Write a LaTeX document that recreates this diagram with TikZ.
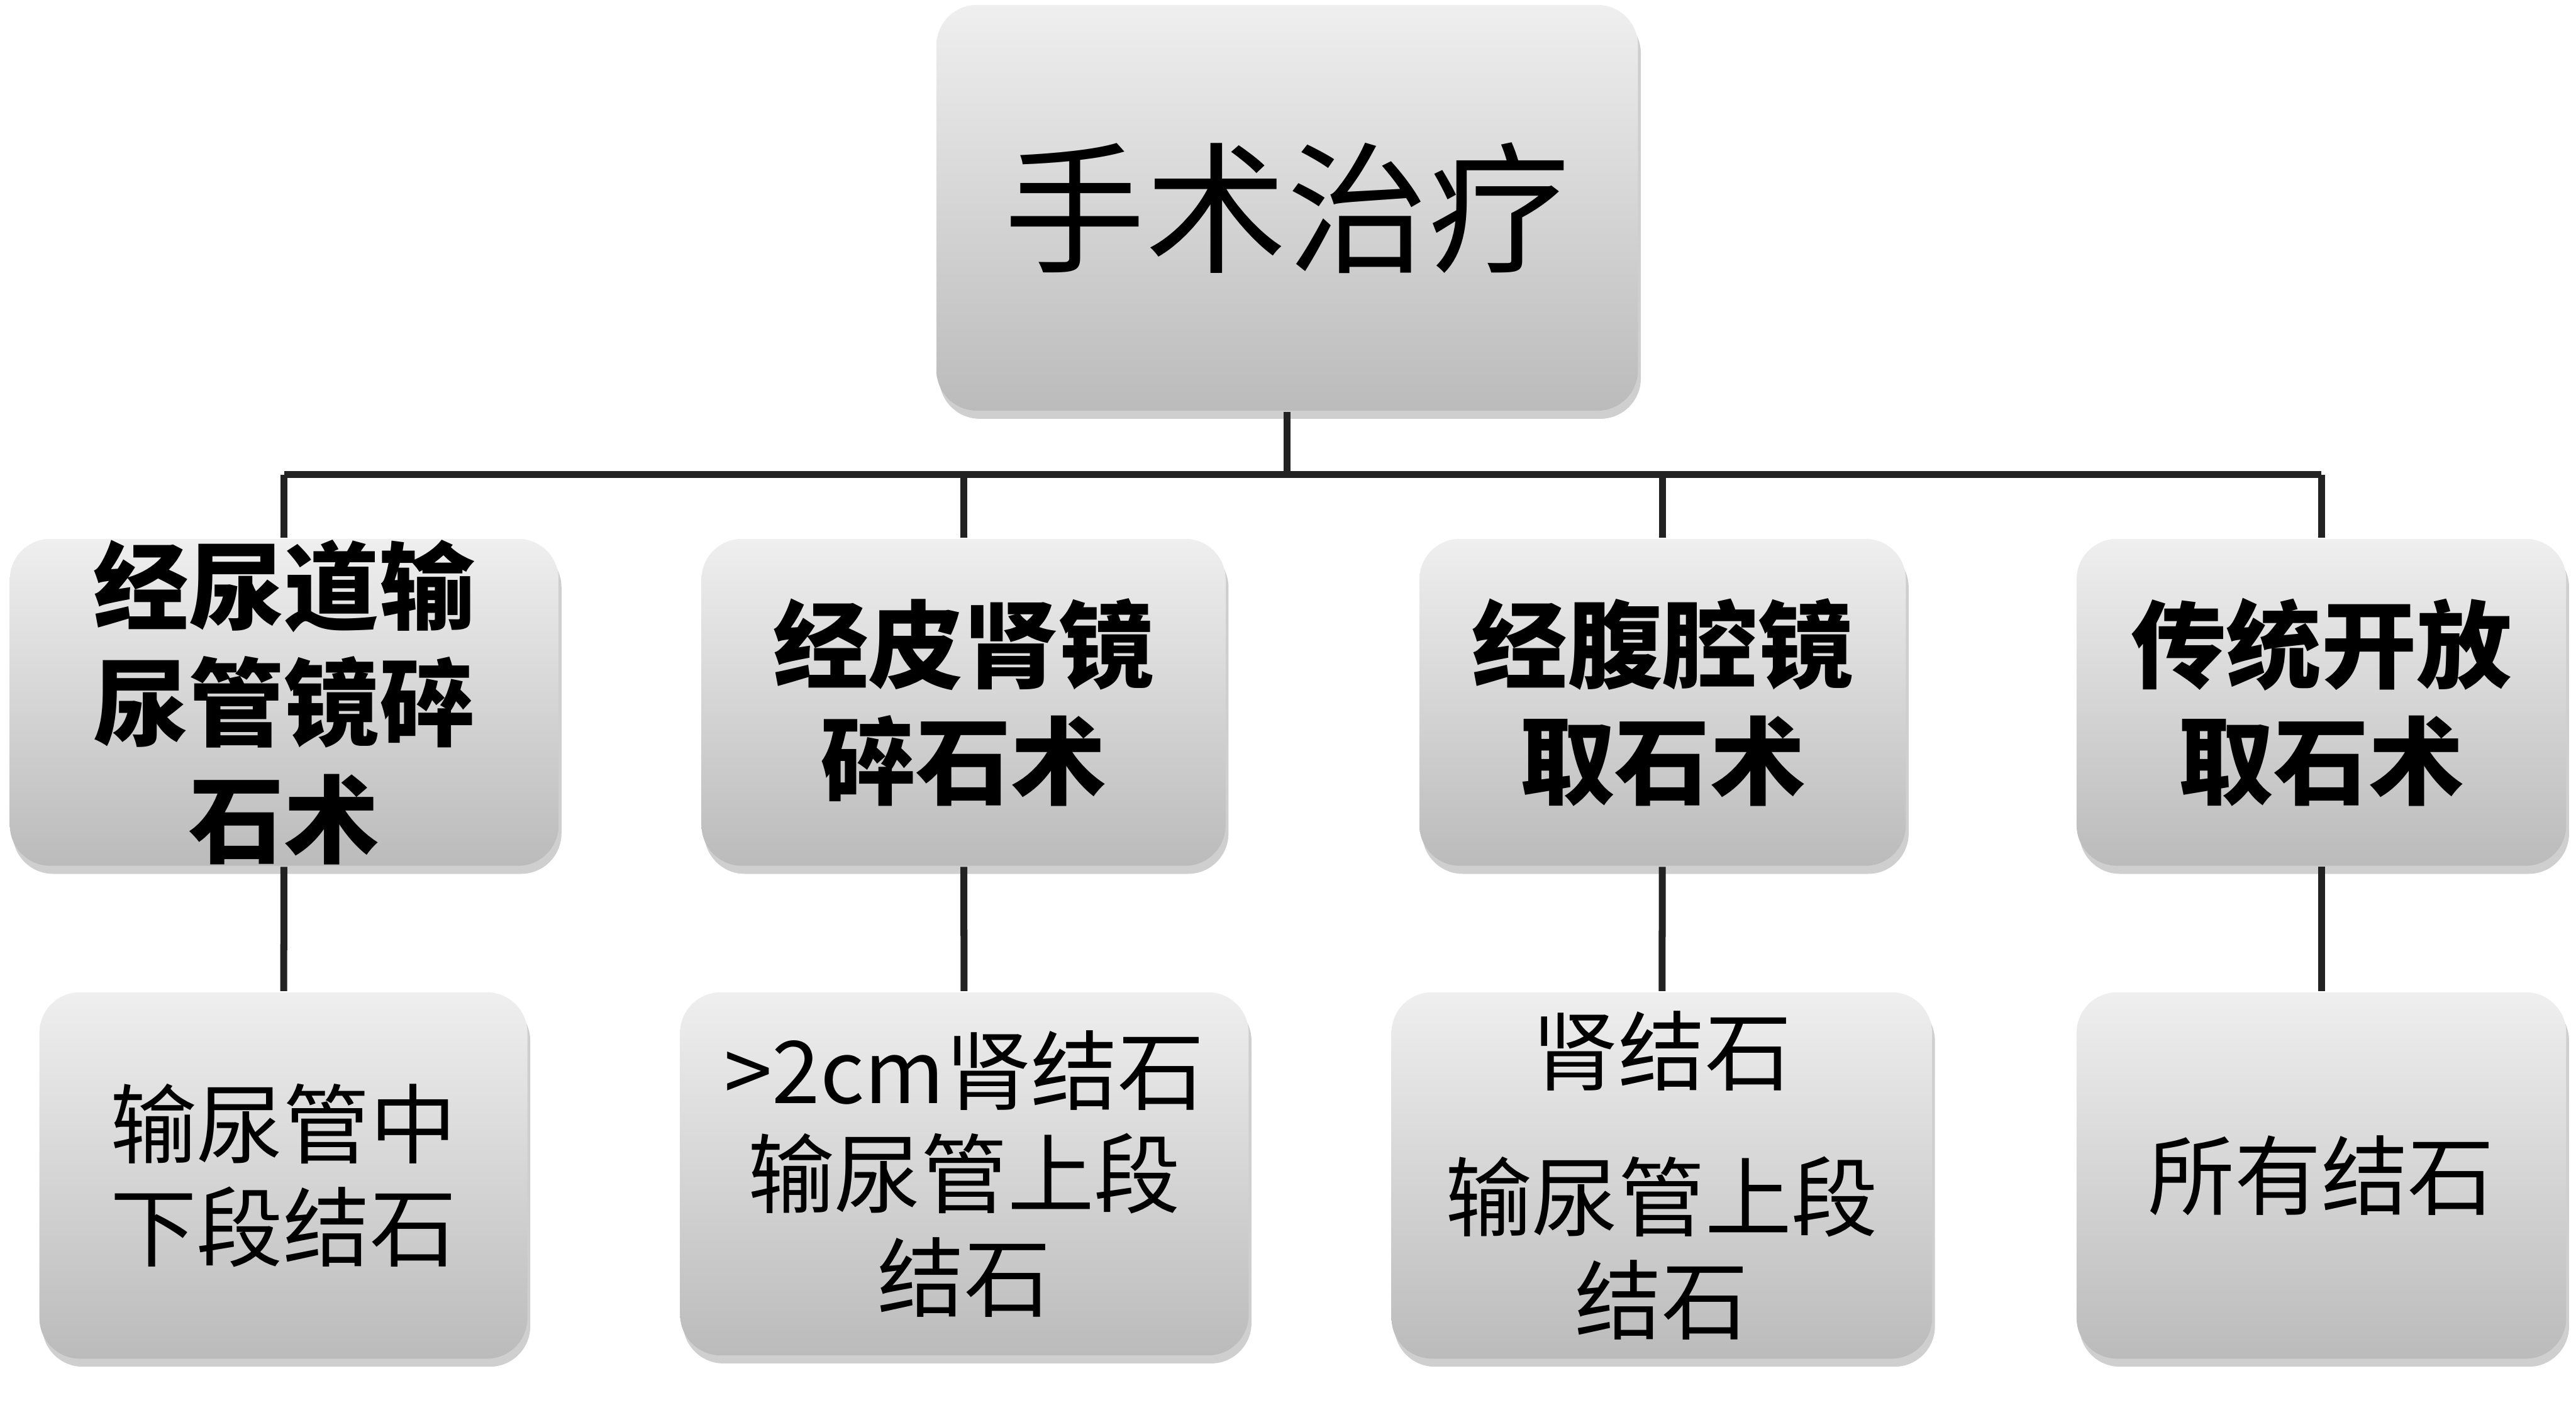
\documentclass[tikz,border=0pt]{standalone}
\usepackage{fontspec}
\setmainfont{Noto Sans CJK SC}
\usepackage{tikz}
\usetikzlibrary{
  arrows.meta,
  positioning,
  calc,
  shadows
}
\definecolor{tbTop}{HTML}{EFEFEF}
\definecolor{tbBottom}{HTML}{BBBBBB}
\definecolor{tbLine}{HTML}{222222}
\definecolor{tbShadow}{HTML}{A0A0A0}
\tikzset{
  tbnode/.style={
    rounded corners=7pt, align=center, inner sep=0pt,
    top color=tbTop, bottom color=tbBottom, draw=none,
    drop shadow={shadow xshift=0.5pt, shadow yshift=-1.4pt, fill=tbShadow, opacity=0.5}
  },
  topbox/.style={tbnode, minimum width=42.7mm, minimum height=24.7mm,
    font=\fontsize{24.5}{28}\selectfont},
  methodbox/.style={tbnode, minimum height=19.9mm,
    font=\fontsize{16.5}{20.2}\selectfont\bfseries},
  stonebox/.style={tbnode, minimum height=22.3mm,
    font=\fontsize{15}{17.9}\selectfont},
  link/.style={line width=1.2pt, tbLine}
}
\begin{document}
\begin{tikzpicture}
  \useasboundingbox (0,0) rectangle (15.68,-8.58);
  % root
  \node[topbox] (top) at (7.835,-1.265) {手术治疗};
  \coordinate (bus) at (0,-2.89);
  % methods
  \node[methodbox, minimum width=33.4mm] (m1) at (1.73,-4.275) {经尿道输\\尿管镜碎\\石术};
  \node[methodbox, minimum width=31.9mm] (m2) at (5.865,-4.275) {经皮肾镜\\碎石术};
  \node[methodbox, minimum width=29.6mm] (m3) at (10.12,-4.275) {经腹腔镜\\取石术};
  \node[methodbox, minimum width=29.8mm] (m4) at (14.13,-4.275) {传统开放\\取石术};
  % indications
  \node[stonebox, minimum width=29.7mm] (s1) at (1.725,-7.155) {输尿管中\\下段结石};
  \node[stonebox, minimum width=34.6mm, minimum height=22.1mm] (s2) at (5.87,-7.145) {>2cm肾结石\\输尿管上段\\结石};
  \node[stonebox, minimum width=32.9mm] (s3) at (10.115,-7.155) {肾结石\\[2.6mm]输尿管上段\\结石};
  \node[stonebox, minimum width=29.8mm] (s4) at (14.13,-7.155) {所有结石};
  % connectors
  \draw[link] (top) -- (top |- bus);
  \draw[link] (m1 |- bus) -- (m4 |- bus);
  \foreach \i in {1,...,4} {
    \draw[link] (m\i |- bus) -- (m\i);
    \draw[link] (m\i) -- (s\i);
  }
\end{tikzpicture}
\end{document}
